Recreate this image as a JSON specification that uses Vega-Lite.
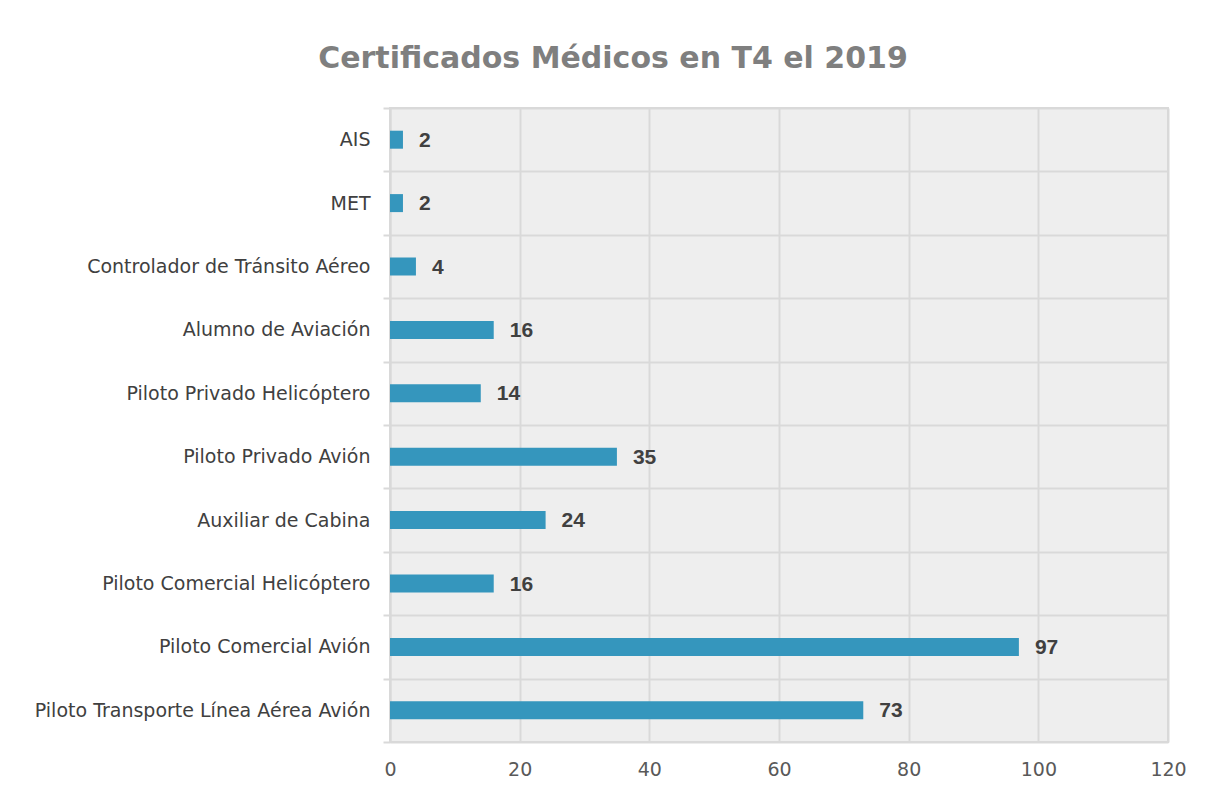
{
  "$schema": "https://vega.github.io/schema/vega-lite/v6.json",
  "autosize": {"type": "none"},
  "width": 778,
  "height": 634,
  "padding": {"left": 390, "top": 108, "right": 43, "bottom": 51},
  "background": "white",
  "title": {
    "text": "Certificados Médicos en T4 el  2019",
    "font": "DejaVu Sans",
    "fontSize": 30,
    "fontWeight": "bold",
    "color": "#7f7f7f",
    "anchor": "middle",
    "baseline": "alphabetic",
    "offset": 43,
    "dx": -166,
    "dy": 42
  },
  "config": {
    "view": {"stroke": "#d9d9d9", "strokeWidth": 2, "fill": "#eeeeee"}
  },
  "data": {
    "values": [
      {"categoria": "AIS", "valor": 2},
      {"categoria": "MET", "valor": 2},
      {"categoria": "Controlador de Tránsito Aéreo", "valor": 4},
      {"categoria": "Alumno de Aviación", "valor": 16},
      {"categoria": "Piloto Privado Helicóptero", "valor": 14},
      {"categoria": "Piloto Privado Avión", "valor": 35},
      {"categoria": "Auxiliar de Cabina", "valor": 24},
      {"categoria": "Piloto Comercial Helicóptero", "valor": 16},
      {"categoria": "Piloto Comercial Avión", "valor": 97},
      {"categoria": "Piloto Transporte Línea Aérea Avión", "valor": 73}
    ]
  },
  "encoding": {
    "y": {
      "field": "categoria",
      "type": "nominal",
      "sort": null,
      "scale": {"paddingInner": 0, "paddingOuter": 0},
      "axis": {
        "title": null,
        "tickBand": "extent",
        "grid": true,
        "gridColor": "#d9d9d9",
        "gridWidth": 2,
        "domainColor": "#d9d9d9",
        "domainWidth": 2,
        "tickColor": "#d9d9d9",
        "tickWidth": 2,
        "tickSize": 7,
        "labelFont": "DejaVu Sans",
        "labelFontSize": 19,
        "labelColor": "#404040",
        "labelPadding": 13,
        "labelLimit": 400
      }
    },
    "x": {
      "field": "valor",
      "type": "quantitative",
      "scale": {"domain": [0, 120], "nice": false},
      "axis": {
        "title": null,
        "values": [0, 20, 40, 60, 80, 100, 120],
        "grid": true,
        "gridColor": "#d9d9d9",
        "gridWidth": 2,
        "domain": false,
        "ticks": false,
        "labelFlush": false,
        "labelFont": "DejaVu Sans",
        "labelFontSize": 19,
        "labelColor": "#595959",
        "labelPadding": 18
      }
    }
  },
  "layer": [
    {
      "mark": {"type": "bar", "color": "#3596bd", "size": 18}
    },
    {
      "mark": {
        "type": "text",
        "align": "left",
        "baseline": "middle",
        "dx": 16,
        "dy": 1,
        "font": "Liberation Sans",
        "fontWeight": "bold",
        "fontSize": 21,
        "color": "#404040"
      },
      "encoding": {"text": {"field": "valor", "type": "quantitative"}}
    }
  ]
}
